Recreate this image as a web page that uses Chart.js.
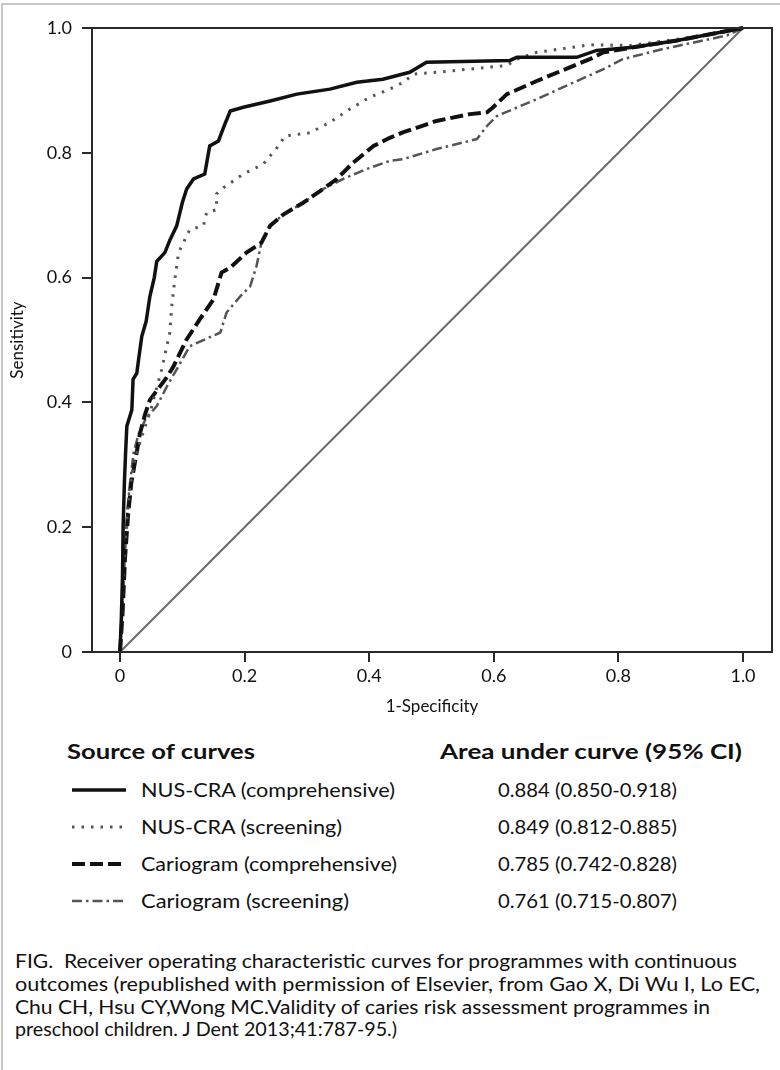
<!DOCTYPE html>
<html>
<head>
<meta charset="utf-8">
<script src="https://cdn.jsdelivr.net/npm/chart.js@4.4.1/dist/chart.umd.min.js"></script>
<style>
html, body { margin: 0; padding: 0; background: #fff; }
body { width: 780px; height: 1070px; position: relative; overflow: hidden; font-family: Lato, "Open Sans", sans-serif; color: #111; }
#frameTop { position: absolute; left: 1px; top: 3px; width: 779px; height: 2px; background: #c8c8c8; }
#frameLeft { position: absolute; left: 1px; top: 3px; width: 2px; height: 1067px; background: #c8c8c8; }
#wrap { position: absolute; left: 0; top: 0; width: 780px; height: 720px; }
.t { position: absolute; white-space: pre; line-height: 1; transform-origin: 0 0; }
.b { font-weight: 700; }
.sample { position: absolute; }
</style>
</head>
<body>
<div id="frameTop"></div>
<div id="frameLeft"></div>
<div id="wrap"><canvas id="roc" width="780" height="720"></canvas></div>
<div id="legend"></div>
<div id="caption"></div>
<script>
// curve points (x = 1-specificity, y = sensitivity)
const nusCompX = [0, 0.002, 0.004, 0.005, 0.007, 0.009, 0.011, 0.015, 0.019, 0.021, 0.027, 0.030, 0.035, 0.042, 0.048, 0.055, 0.059, 0.072, 0.080, 0.091, 0.100, 0.107, 0.118, 0.136, 0.144, 0.158, 0.168, 0.177, 0.198, 0.241, 0.284, 0.337, 0.380, 0.422, 0.465, 0.492, 0.626, 0.637, 0.733, 0.765, 0.824, 0.894, 0.947, 1];
const nusCompY = [0, 0.05, 0.12, 0.20, 0.27, 0.32, 0.362, 0.375, 0.388, 0.437, 0.447, 0.470, 0.506, 0.530, 0.570, 0.600, 0.626, 0.640, 0.660, 0.683, 0.720, 0.742, 0.758, 0.766, 0.811, 0.819, 0.845, 0.867, 0.873, 0.883, 0.894, 0.902, 0.913, 0.918, 0.929, 0.945, 0.948, 0.953, 0.953, 0.964, 0.969, 0.980, 0.990, 1];

const nusScrX = [0, 0.003, 0.006, 0.010, 0.015, 0.022, 0.030, 0.040, 0.050, 0.058, 0.067, 0.080, 0.083, 0.088, 0.094, 0.112, 0.134, 0.139, 0.155, 0.155, 0.166, 0.198, 0.230, 0.252, 0.265, 0.305, 0.337, 0.369, 0.401, 0.433, 0.455, 0.471, 0.508, 0.621, 0.637, 0.669, 0.754, 0.820, 0.894, 0.947, 1];
const nusScrY = [0, 0.06, 0.14, 0.20, 0.26, 0.30, 0.33, 0.36, 0.39, 0.42, 0.453, 0.512, 0.554, 0.597, 0.640, 0.677, 0.683, 0.704, 0.709, 0.734, 0.744, 0.766, 0.782, 0.808, 0.827, 0.832, 0.849, 0.870, 0.889, 0.902, 0.913, 0.926, 0.929, 0.940, 0.950, 0.961, 0.973, 0.972, 0.982, 0.990, 1];

const carCompX = [0, 0.004, 0.008, 0.013, 0.018, 0.025, 0.032, 0.040, 0.048, 0.060, 0.075, 0.086, 0.107, 0.128, 0.150, 0.163, 0.177, 0.203, 0.227, 0.241, 0.262, 0.294, 0.326, 0.348, 0.374, 0.407, 0.433, 0.455, 0.508, 0.562, 0.589, 0.599, 0.621, 0.669, 0.722, 0.754, 0.776, 0.824, 0.894, 0.947, 1];
const carCompY = [0, 0.06, 0.15, 0.22, 0.27, 0.31, 0.35, 0.38, 0.404, 0.42, 0.44, 0.458, 0.501, 0.533, 0.565, 0.608, 0.616, 0.640, 0.656, 0.683, 0.701, 0.720, 0.742, 0.758, 0.784, 0.811, 0.824, 0.833, 0.851, 0.862, 0.865, 0.873, 0.894, 0.915, 0.937, 0.950, 0.961, 0.969, 0.980, 0.990, 1];

const carScrX = [0, 0.004, 0.008, 0.012, 0.017, 0.022, 0.030, 0.042, 0.059, 0.075, 0.091, 0.112, 0.161, 0.171, 0.193, 0.209, 0.219, 0.227, 0.241, 0.262, 0.294, 0.326, 0.358, 0.396, 0.433, 0.455, 0.508, 0.573, 0.589, 0.605, 0.669, 0.722, 0.776, 0.807, 0.870, 0.974, 1];
const carScrY = [0, 0.07, 0.16, 0.23, 0.28, 0.32, 0.35, 0.375, 0.394, 0.425, 0.453, 0.490, 0.512, 0.544, 0.570, 0.586, 0.618, 0.656, 0.683, 0.701, 0.720, 0.742, 0.758, 0.774, 0.787, 0.790, 0.806, 0.822, 0.843, 0.859, 0.886, 0.910, 0.934, 0.950, 0.966, 0.988, 1];

const refX = [0, 1];
const refY = [0, 1];

const curveNames = ['NUS-CRA (comprehensive)', 'NUS-CRA (screening)', 'Cariogram (comprehensive)', 'Cariogram (screening)'];
const aucLabels = ['0.884 (0.850-0.918)', '0.849 (0.812-0.885)', '0.785 (0.742-0.828)', '0.761 (0.715-0.807)'];

const xTicks = [0, 0.2, 0.4, 0.6, 0.8, 1.0];
const xTickLabels = ['0', '0.2', '0.4', '0.6', '0.8', '1.0'];
const yTicks = [0, 0.2, 0.4, 0.6, 0.8, 1.0];
const yTickLabels = ['0', '0.2', '0.4', '0.6', '0.8', '1.0'];

const captionLines = [
  'FIG.  Receiver operating characteristic curves for programmes with continuous',
  'outcomes (republished with permission of Elsevier, from Gao X, Di Wu I, Lo EC,',
  'Chu CH, Hsu CY,Wong MC.Validity of caries risk assessment programmes in',
  'preschool children. J Dent 2013;41:787-95.)'
];

function pts(xs, ys) {
  return xs.map((x, i) => ({ x: x, y: ys[i] }));
}

const styles = [
  { color: '#111', width: 3.5, dash: [] },
  { color: '#555', width: 3, dash: [2.5, 7] },
  { color: '#111', width: 4, dash: [13, 5] },
  { color: '#555', width: 2.5, dash: [10, 4, 2.5, 4] }
];
const series = [pts(nusCompX, nusCompY), pts(nusScrX, nusScrY), pts(carCompX, carCompY), pts(carScrX, carScrY)];

const datasets = series.map((d, i) => ({
  label: curveNames[i],
  data: d,
  borderColor: styles[i].color,
  borderWidth: styles[i].width,
  borderDash: styles[i].dash,
  pointRadius: 0,
  tension: 0,
  clip: false
}));
datasets.push({
  label: 'reference',
  data: pts(refX, refY),
  borderColor: '#6a6a6a',
  borderWidth: 2,
  pointRadius: 0,
  clip: false
});

const framePlugin = {
  id: 'frame',
  afterDatasetsDraw(chart) {
    const { ctx, chartArea: a } = chart;
    ctx.save();
    ctx.strokeStyle = '#2a2a2a';
    ctx.lineWidth = 2;
    ctx.strokeRect(a.left, a.top, a.right - a.left, a.bottom - a.top);
    ctx.restore();
  }
};

const tickFont = { family: 'Lato', size: 18 };

new Chart(document.getElementById('roc'), {
  type: 'line',
  data: { datasets: datasets },
  options: {
    responsive: false,
    animation: false,
    layout: { padding: { left: 0, right: 8, top: 28, bottom: 0 } },
    plugins: { legend: { display: false }, tooltip: { enabled: false } },
    scales: {
      x: {
        type: 'linear',
        min: -28 / 623,
        max: 1 + 29 / 623,
        afterBuildTicks: s => { s.ticks = xTicks.map(v => ({ value: v })); },
        afterFit: s => { s.height = 68; },
        ticks: { autoSkip: false, maxRotation: 0, padding: 3, color: '#111', font: tickFont,
                 callback: (v, i) => xTickLabels[i] },
        grid: { drawOnChartArea: false, drawTicks: true, tickLength: 10, color: '#2a2a2a', lineWidth: 2 },
        border: { display: false },
        title: { display: true, text: '1-Specificity', color: '#111', font: { family: 'Lato', size: 17 }, padding: { top: 0, bottom: 3 } }
      },
      y: {
        type: 'linear',
        min: 0,
        max: 1,
        afterBuildTicks: s => { s.ticks = yTicks.map(v => ({ value: v })); },
        afterFit: s => { s.width = 92; },
        ticks: { autoSkip: false, padding: 10, color: '#111', font: tickFont,
                 callback: (v, i) => yTickLabels[i] },
        grid: { drawOnChartArea: false, drawTicks: true, tickLength: 10, color: '#2a2a2a', lineWidth: 2 },
        border: { display: false },
        title: { display: true, text: 'Sensitivity', color: '#111', font: { family: 'Lato', size: 17 }, padding: { top: 7, bottom: 0 } }
      }
    }
  },
  plugins: [framePlugin]
});

// text placed by cap-centre y and squeezed to the measured width
function addText(parent, txt, x, cy, size, w, bold) {
  const el = document.createElement('div');
  el.className = 't' + (bold ? ' b' : '');
  el.textContent = txt;
  el.style.fontSize = size + 'px';
  el.style.left = x + 'px';
  el.style.top = (cy - 0.527 * size) + 'px';
  parent.appendChild(el);
  const nat = el.getBoundingClientRect().width;
  if (w && nat > 0) el.style.transform = 'scaleX(' + (w / nat) + ')';
  return el;
}

const legend = document.getElementById('legend');
addText(legend, 'Source of curves', 67, 752, 20, 188, true);
addText(legend, 'Area under curve (95% CI)', 440, 752, 20, 302, true);
const rowY = [790, 827, 864, 901];
const nameW = [254, 201, 256, 208];
curveNames.forEach((n, i) => {
  const c = document.createElement('canvas');
  c.className = 'sample';
  c.width = 56; c.height = 10;
  c.style.left = '71px';
  c.style.top = (rowY[i] - 5) + 'px';
  legend.appendChild(c);
  const g = c.getContext('2d');
  g.strokeStyle = styles[i].color;
  g.lineWidth = styles[i].width;
  g.setLineDash(styles[i].dash);
  g.beginPath(); g.moveTo(1, 5); g.lineTo(55, 5); g.stroke();
  addText(legend, n, 141, rowY[i], 20, nameW[i], false);
  addText(legend, aucLabels[i], 498, rowY[i], 20, 179, false);
});

const cap = document.getElementById('caption');
const capY = [962, 985, 1008, 1030];
const capW = [722, 745, 695, 382];
captionLines.forEach((l, i) => addText(cap, l, 15, capY[i], 18.5, capW[i], false));
</script>
</body>
</html>
